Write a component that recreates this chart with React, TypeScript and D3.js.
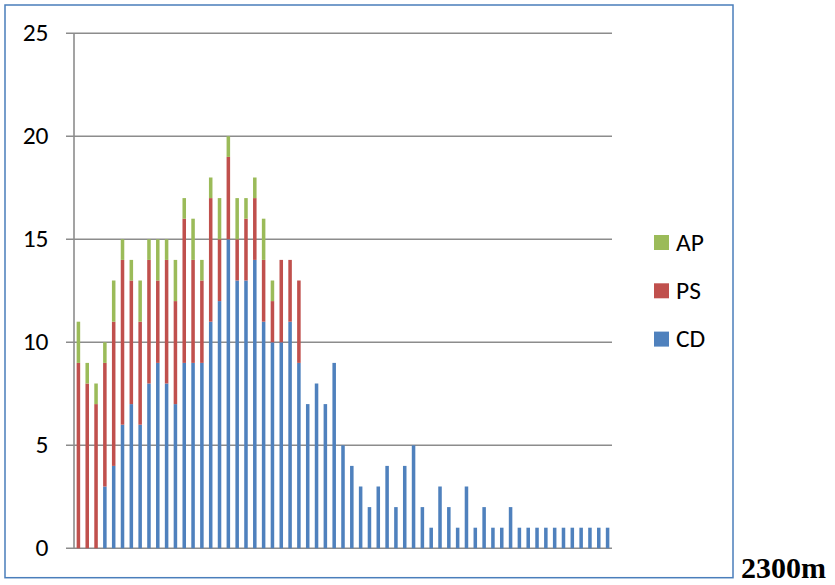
import React from "react";
import * as d3 from "d3";

const CD = [0,0,0,3,4,6,7,6,8,9,8,7,9,9,9,11,12,15,13,13,14,11,10,10,11,9,7,8,7,9,5,4,3,2,3,4,2,4,5,2,1,3,2,1,3,1,2,1,1,2,1,1,1,1,1,1,1,1,1,1,1];
const PS = [9,8,7,6,7,8,6,5,6,4,6,5,7,5,4,6,3,4,2,3,3,3,2,4,3,4,0,0,0,0,0,0,0,0,0,0,0,0,0,0,0,0,0,0,0,0,0,0,0,0,0,0,0,0,0,0,0,0,0,0,0];
const AP = [2,1,1,1,2,1,1,2,1,2,1,2,1,2,1,1,2,1,2,1,1,2,1,0,0,0,0,0,0,0,0,0,0,0,0,0,0,0,0,0,0,0,0,0,0,0,0,0,0,0,0,0,0,0,0,0,0,0,0,0,0];
const yTicks = [0, 5, 10, 15, 20, 25];
const seriesKeys = ["CD", "PS", "AP"];
const legendOrder = ["AP", "PS", "CD"];
const colors: Record<string, string> = { CD: "#4F81BD", PS: "#C0504D", AP: "#9BBB59" };
const sideLabel = "2300m";

export default function App() {
  const W = 835, H = 585;
  const left = 74, right = 612, top = 33.3, bottom = 548.3;
  const rows = CD.map((v, i) => ({ i, CD: v, PS: PS[i], AP: AP[i] }));
  const x = d3.scaleBand<number>().domain(rows.map(r => r.i)).range([left, right]).paddingInner(0.6).paddingOuter(0.3);
  const y = d3.scaleLinear().domain([0, 25]).range([bottom, top]);
  const stacked = d3.stack<any>().keys(seriesKeys)(rows);
  const font = "Carlito, 'Liberation Sans', sans-serif";
  return (
    <svg width={W} height={H} style={{ position: "absolute", left: 0, top: 0, background: "#fff" }}>
      <rect x={5} y={5} width={728} height={572.7} fill="none" stroke="#4A7EBB" strokeWidth={1.5} />
      {yTicks.map(t => (
        <g key={t}>
          <line x1={66} x2={right} y1={y(t)} y2={y(t)} stroke="#8C8C8C" strokeWidth={1.6} />
          <text x={48.5} y={y(t) + 7.5} textAnchor="end" fontFamily={font} fontSize={25.5} fill="#000">{t}</text>
        </g>
      ))}
      <line x1={left} x2={left} y1={top} y2={bottom} stroke="#8C8C8C" strokeWidth={1.6} />
      {stacked.map(s => (
        <g key={s.key} fill={colors[s.key]}>
          {s.map((d, i) => d[1] > d[0] ? (
            <rect key={i} x={x(i)} width={x.bandwidth()} y={y(d[1])} height={y(d[0]) - y(d[1])} />
          ) : null)}
        </g>
      ))}
      {legendOrder.map((k, j) => (
        <g key={k} transform={`translate(654, ${235 + j * 48.3})`}>
          <rect width={15} height={15} fill={colors[k]} />
          <text x={22} y={15.7} fontFamily={font} fontSize={25.5} fill="#000">{k}</text>
        </g>
      ))}
      <text x={741} y={577.7} fontFamily="'Liberation Serif', 'Times New Roman', serif" fontWeight="bold" fontSize={30} fill="#000">{sideLabel}</text>
    </svg>
  );
}
